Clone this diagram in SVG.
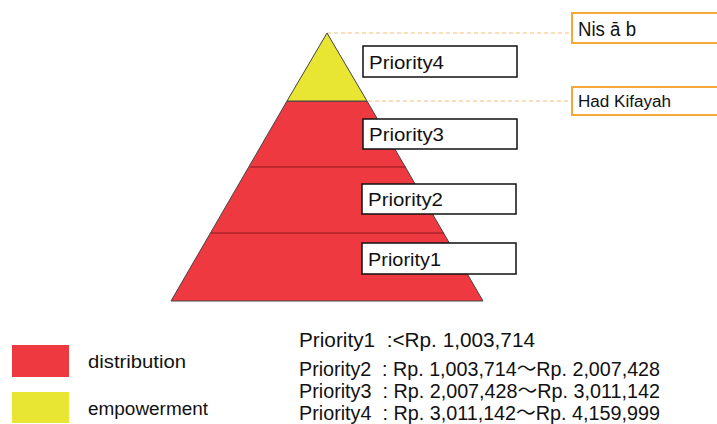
<svg xmlns="http://www.w3.org/2000/svg" width="717" height="424" viewBox="0 0 717 424">
<style>
text{font-family:"Liberation Sans","Noto Sans CJK JP",sans-serif;fill:#111;white-space:pre}
.red{fill:#EE3940}
.yel{fill:#E8E533}
.tier{stroke:#444;stroke-width:1}
.box{fill:#fff;stroke:#111;stroke-width:1.5}
.obox{fill:#fff;stroke:#F6A93A;stroke-width:2}
.dash{stroke:#F6BE7A;stroke-width:1;stroke-dasharray:4 3;fill:none}
.lbl{font-size:19px}
.leg{font-size:18px}
</style>
<g id="connectors">
<line class="dash" x1="327" y1="33" x2="572" y2="33"/>
<line class="dash" x1="368" y1="101" x2="572" y2="101"/>
</g>
<g id="pyramid">
<polygon class="red tier" points="287,101 367,101 483,301 171,301"/>
<line x1="250" y1="167" x2="406" y2="167" stroke="#8a1a1e" stroke-width="1"/>
<line x1="211" y1="233" x2="444" y2="233" stroke="#8a1a1e" stroke-width="1"/>
<polygon class="yel tier" points="327,33 367,101 287,101"/>
</g>
<g id="p4"><rect class="box" x="363" y="46" width="154" height="31"/><text class="lbl" x="369" y="69" textLength="75" lengthAdjust="spacingAndGlyphs">Priority4</text></g>
<g id="p3"><rect class="box" x="363" y="119" width="154" height="30"/><text class="lbl" x="369" y="141" textLength="75" lengthAdjust="spacingAndGlyphs">Priority3</text></g>
<g id="p2"><rect class="box" x="362" y="184" width="154" height="30"/><text class="lbl" x="368" y="206" textLength="75" lengthAdjust="spacingAndGlyphs">Priority2</text></g>
<g id="p1"><rect class="box" x="362" y="243" width="154" height="31"/><text class="lbl" x="368" y="266" textLength="73" lengthAdjust="spacingAndGlyphs">Priority1</text></g>
<g id="nisab"><rect class="obox" x="572" y="13" width="150" height="30"/><text x="578" y="36" font-size="20" textLength="58" lengthAdjust="spacingAndGlyphs">Nis ā b</text></g>
<g id="hadkifayah"><rect class="obox" x="572" y="87" width="150" height="28"/><text x="578" y="107" font-size="16" textLength="93" lengthAdjust="spacingAndGlyphs">Had Kifayah</text></g>
<g id="legend">
<rect class="red" x="12" y="345" width="57" height="32"/>
<rect class="yel" x="12" y="392" width="57" height="31"/>
<text class="leg" x="88" y="368" textLength="98" lengthAdjust="spacingAndGlyphs">distribution</text>
<text class="leg" x="88" y="415" textLength="120" lengthAdjust="spacingAndGlyphs">empowerment</text>
</g>
<g id="ranges" font-size="20">
<text x="299" y="347" textLength="236" lengthAdjust="spacingAndGlyphs">Priority1  :&lt;Rp. 1,003,714</text>
<text x="299" y="376" textLength="361" lengthAdjust="spacingAndGlyphs">Priority2  : Rp. 1,003,714～Rp. 2,007,428</text>
<text x="299" y="398" textLength="361" lengthAdjust="spacingAndGlyphs">Priority3  : Rp. 2,007,428～Rp. 3,011,142</text>
<text x="299" y="420" textLength="361" lengthAdjust="spacingAndGlyphs">Priority4  : Rp. 3,011,142～Rp. 4,159,999</text>
</g>
</svg>
